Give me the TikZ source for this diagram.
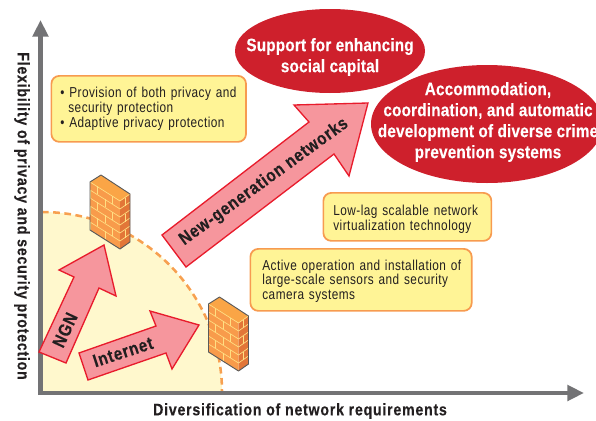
\documentclass[tikz,border=0pt]{standalone}
\usepackage{fontspec}
\setmainfont{Liberation Sans}[FakeStretch=0.82,LetterSpace=3.3]
\newfontfamily\boldcn{Liberation Sans}[FakeStretch=0.85,LetterSpace=4.6,FakeBold=0.25]
\newfontfamily\boldcnb{Liberation Sans}[FakeStretch=0.85,LetterSpace=1,FakeBold=0.2]
\usetikzlibrary{arrows.meta,shapes.geometric}
\definecolor{axisgray}{RGB}{115,115,117}
\definecolor{quad}{RGB}{255,248,205}
\definecolor{dashor}{RGB}{247,160,80}
\definecolor{boxfill}{RGB}{255,244,150}
\definecolor{boxline}{RGB}{247,155,80}
\definecolor{arrowfill}{RGB}{246,150,157}
\definecolor{arrowline}{RGB}{232,28,44}
\definecolor{ellred}{RGB}{206,32,44}
\definecolor{brickfront}{RGB}{248,155,75}
\definecolor{bricktop}{RGB}{250,165,70}
\definecolor{brickside}{RGB}{226,118,56}
\definecolor{brickline}{RGB}{255,222,130}
\definecolor{wallline}{RGB}{90,90,90}
\definecolor{ink}{RGB}{35,31,32}
\tikzset{
 x=0.75pt,y=-0.75pt,
 infobox/.style={draw=boxline,fill=boxfill,line width=1.3pt,rounded corners=6pt,anchor=north west,
   text=ink,align=left,inner sep=0pt,font=\fontsize{10.8pt}{11pt}\selectfont},
 goalell/.style={ellipse,fill=ellred,inner sep=0pt},
 goaltext/.style={text=white,align=center,inner sep=0pt,
   font=\boldcnb\bfseries\fontsize{13.5pt}{15.75pt}\selectfont},
 bigarrow/.style={draw=arrowline,fill=arrowfill,line width=1pt,miter limit=10},
 arrowtext/.style={text=ink,font=\boldcn\bfseries\fontsize{13.5pt}{13pt}\selectfont,inner sep=0pt},
 axislabel/.style={text=ink,font=\boldcn\bfseries\fontsize{12.5pt}{13pt}\selectfont,inner sep=0pt},
 axisline/.style={draw=axisgray,line width=3.4pt,-{Triangle[length=12.5pt,width=11.5pt]}},
 brick/.style={draw=brickline,line width=0.5pt},
}
\newcommand{\firewall}[2]{%
 \begin{scope}[shift={(#1,#2)}]
  \fill[brickfront] (0,0) -- (30,19) -- (30,67) -- (0,48) -- cycle;
  \fill[brickside] (30,19) -- (40,12) -- (40,60) -- (30,67) -- cycle;
  \fill[bricktop] (0,0) -- (11,-7) -- (40,12) -- (30,19) -- cycle;
  \foreach \k in {0,...,5}{
   \draw[brick] (0,{\k*8}) -- (30,{19+\k*8}) -- (40,{12+\k*8});
  }
  \foreach \k/\a/\b in {0/7/22,1/0/15,2/7/22,3/0/15,4/7/22,5/0/15}{
   \draw[brick] (\a,{\k*8+\a*0.633}) -- +(0,8);
   \draw[brick] (\b,{\k*8+\b*0.633}) -- +(0,8);
  }
  \foreach \k in {0,2,4}{\draw[brick] (35,{\k*8+15.5}) -- +(0,8);}
  \draw[wallline,line width=0.7pt,line join=round] (0,0) -- (11,-7) -- (40,12) -- (40,60) -- (30,67) -- (0,48) -- cycle;
 \end{scope}}
\begin{document}
\begin{tikzpicture}
\path[use as bounding box] (0,0) rectangle (596,421);
\clip (0,0) rectangle (596,421);
% quadrant
\coordinate (O) at (42,392);
\fill[quad] (O) -- (42,212) arc[start angle=90,end angle=0,radius=135pt] -- cycle;
\draw[dashor,line width=1.9pt,dash pattern=on 5pt off 3.4pt] (42,212) arc[start angle=90,end angle=0,radius=135pt];
% axes
\coordinate (Xstart) at (38.2,393);
\coordinate (Ystart) at (40.5,395.2);
\coordinate (Xend) at (584,393);
\coordinate (Yend) at (40.5,20);
\draw[axisline] (Xstart) -- (Xend);
\draw[axisline] (Ystart) -- (Yend);
% firewalls
\firewall{90}{182}
\firewall{208.5}{304}
% arrows
\draw[bigarrow] (39,352) -- (66,363) -- (99,288) -- (116,296) -- (104,245) -- (59,270) -- (74,277) -- cycle;
\node[arrowtext,rotate=65] (ngn) at (65,330) {NGN};
\draw[bigarrow] (79,353) -- (88,380) -- (166,353) -- (172,369) -- (199,325) -- (150,311) -- (156,326) -- cycle;
\node[arrowtext,rotate=18] (inet) at (123,352) {Internet};
\draw[bigarrow] (162,235) -- (186,267) -- (334,154) -- (349,176) -- (368,103) -- (294,105) -- (309,122) -- cycle;
\node[arrowtext,rotate=36] (newgen) at (264,182) {New-generation networks};
% ellipses
\node[goalell,minimum width=142.5pt,minimum height=63pt] (capital) at (330,51) {};
\node[goaltext] (capitaltext) at (330,57) {Support for enhancing\\social capital};
\node[goalell,minimum width=174pt,minimum height=88.5pt] (crime) at (487,124) {};
\node[goaltext] (crimetext) at (488,122) {Accommodation,\\coordination, and automatic\\development of diverse crime\\prevention systems};
% boxes
\node[infobox,minimum width=146pt,minimum height=49.5pt,text width=132.5pt] (privacy) at (50.5,75) {\mbox{• Provision of both privacy and}\\\mbox{\hspace{6pt}security protection}\\\mbox{• Adaptive privacy protection}};
\node[infobox,minimum width=126pt,minimum height=36pt,text width=111pt] (lowlag) at (322.5,192) {\mbox{\rule{0pt}{11pt}Low-lag scalable network}\\\mbox{virtualization technology}};
\node[infobox,minimum width=166pt,minimum height=46.5pt,text width=148pt] (active) at (249.5,248) {\mbox{\rule{0pt}{9.5pt}Active operation and installation of}\\\mbox{large-scale sensors and security}\\\mbox{camera systems}};
% axis labels
\node[axislabel,rotate=-90] (ylab) at (22,216) {Flexibility of privacy and security protection};
\node[axislabel] (xlab) at (300,411) {Diversification of network requirements};
\end{tikzpicture}
\end{document}
